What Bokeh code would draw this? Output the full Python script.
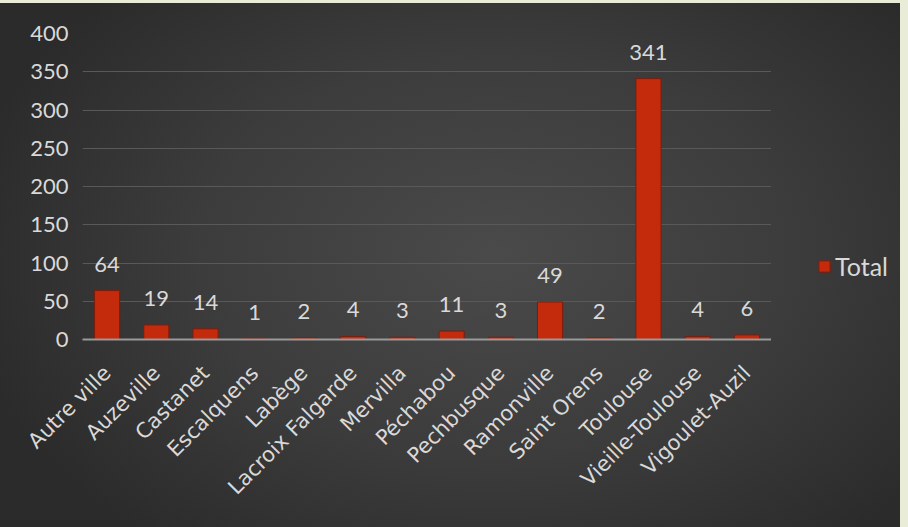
import math
from bokeh.plotting import figure
from bokeh.layouts import row
from bokeh.models import ColumnDataSource, Range1d, FactorRange, Legend, LegendItem
from bokeh.core.properties import value
from bokeh.embed import file_html
from bokeh.resources import INLINE

communes = ["Autre ville", "Auzeville", "Castanet", "Escalquens", "Labège",
            "Lacroix Falgarde", "Mervilla", "Péchabou", "Pechbusque", "Ramonville",
            "Saint Orens", "Toulouse", "Vieille-Toulouse", "Vigoulet-Auzil"]
totals = [64, 19, 14, 1, 2, 4, 3, 11, 3, 49, 2, 341, 4, 6]
y_ticks = [0, 50, 100, 150, 200, 250, 300, 350, 400]
series_name = "Total"

NUM_FONT = "Lato"
CAT_FONT = "DejaVu Sans"
TXT = "#d9d9d9"
BAR = "#c42b0c"
BAR_EDGE = "#7d1c0b"

src = ColumnDataSource(dict(x=communes, top=totals, label=[str(v) for v in totals]))

p = figure(width=771, height=524, x_range=FactorRange(*communes), y_range=Range1d(0, 400),
           output_backend="svg", toolbar_location=None,
           min_border_left=82, min_border_right=0, min_border_top=30, min_border_bottom=188)
p.border_fill_color = None
p.background_fill_color = None
p.outline_line_color = None

p.vbar(x="x", top="top", width=0.51, source=src, fill_color=BAR,
       line_color=BAR_EDGE, line_width=1)
p.text(x="x", y="top", text="label", source=src, text_align="center", text_baseline="bottom",
       y_offset=-19, text_color=TXT, text_font=value(NUM_FONT), text_font_size="22px")

p.yaxis.ticker = y_ticks
p.yaxis.axis_line_color = None
p.yaxis.major_tick_line_color = None
p.yaxis.major_tick_out = 0
p.yaxis.major_tick_in = 0
p.yaxis.minor_tick_line_color = None
p.yaxis.major_label_standoff = 14
p.yaxis.major_label_text_color = TXT
p.yaxis.major_label_text_font = NUM_FONT
p.yaxis.major_label_text_font_size = "22px"

p.xaxis.axis_line_color = "#9a9a9a"
p.xaxis.axis_line_width = 2
p.xaxis.major_tick_line_color = None
p.xaxis.major_tick_out = 0
p.xaxis.major_tick_in = 0
p.xaxis.minor_tick_line_color = None
p.xaxis.major_label_orientation = math.pi / 4
p.xaxis.major_label_standoff = 30
p.xaxis.major_label_text_color = TXT
p.xaxis.major_label_text_font = CAT_FONT
p.xaxis.major_label_text_font_size = "21px"

p.xgrid.grid_line_color = None
p.ygrid.grid_line_color = "#595959"
p.ygrid.grid_line_width = 1

# legend panel
p2 = figure(width=129, height=524, x_range=Range1d(0, 1), y_range=Range1d(0, 1),
            x_axis_type=None, y_axis_type=None, output_backend="svg", toolbar_location=None,
            min_border_left=0, min_border_right=0, min_border_top=30, min_border_bottom=188)
p2.border_fill_color = None
p2.background_fill_color = None
p2.outline_line_color = None
p2.grid.visible = False
key = p2.vbar(x=[0], top=[0], width=0, fill_color=BAR, line_color=BAR_EDGE, visible=False)
lg = Legend(items=[LegendItem(label=series_name, renderers=[key])], location=(46, 58))
lg.background_fill_alpha = 0
lg.border_line_color = None
lg.inactive_fill_alpha = 0
lg.padding = 0
lg.margin = 0
lg.glyph_width = 14
lg.glyph_height = 14
lg.label_standoff = 4
lg.label_text_color = TXT
lg.label_text_font = NUM_FONT
lg.label_text_font_size = "25px"
p2.add_layout(lg)

layout = row(p, p2)
layout.styles = {"position": "relative", "top": "3px",
                 "box-shadow": "0 0 0 10px #e9ecd6",
                 "background-image": "radial-gradient(ellipse 60% 70% at 55% 48%, #4a4a4a 0%, #3c3c3c 55%, #2b2b2b 100%)"}

open("out.html", "w").write(file_html(layout, INLINE))
